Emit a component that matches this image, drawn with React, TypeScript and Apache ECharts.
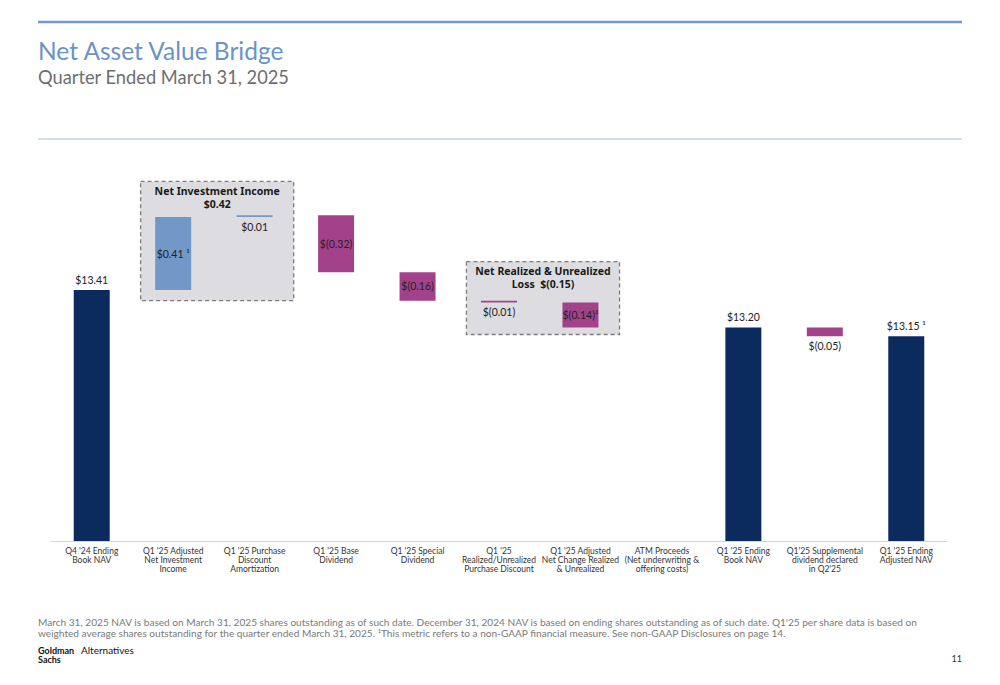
import React, { useEffect, useRef } from "react";
import * as echarts from "echarts";

const categories = [
  "Q4 '24 Ending\nBook NAV",
  "Q1 '25 Adjusted\nNet Investment\nIncome",
  "Q1 '25 Purchase\nDiscount\nAmortization",
  "Q1 '25 Base\nDividend",
  "Q1 '25 Special\nDividend",
  "Q1 '25\nRealized/Unrealized\nPurchase Discount",
  "Q1 '25 Adjusted\nNet Change Realized\n& Unrealized",
  "ATM Proceeds\n(Net underwriting &\noffering costs)",
  "Q1 '25 Ending\nBook NAV",
  "Q1'25 Supplemental\ndividend declared\nin Q2'25",
  "Q1 '25 Ending\nAdjusted NAV",
];
const values = [13.41, 0.41, 0.01, -0.32, -0.16, -0.01, -0.14, 0, 13.2, -0.05, 13.15];
const kinds = ["total", "nii", "nii", "neg", "neg", "neg", "neg", "none", "total", "neg", "total"];
const footnoteMarks = ["", " ¹", "", "", "", "", "¹", "", "", "", " ¹"];

const groupTitles = ["Net Investment Income\n$0.42", "Net Realized & Unrealized\nLoss  $(0.15)"];
const groupRanges = [
  [1, 2],
  [5, 6],
];
const groupValueTop = [14.02, 13.57];
const groupValueBottom = [13.35, 13.16];

const footnote1 =
  "March 31, 2025 NAV is based on March 31, 2025 shares outstanding as of such date. December 31, 2024 NAV is based on ending shares outstanding as of such date. Q1'25 per share data is based on";
const footnote2 =
  "weighted average shares outstanding for the quarter ended March 31, 2025. ¹This metric refers to a non-GAAP financial measure. See non-GAAP Disclosures on page 14.";

const COLORS: Record<string, string> = {
  total: "#0b2b5f",
  nii: "#7198c6",
  neg: "#a3418b",
  none: "transparent",
};

const LATO = "Lato, 'Noto Sans', sans-serif";
const SANS = "'Noto Sans', 'Open Sans', sans-serif";

function fmt(v: number, i: number) {
  if (kinds[i] === "none") return "";
  const a = Math.abs(v).toFixed(2);
  return (v < 0 ? "$(" + a + ")" : "$" + a) + footnoteMarks[i];
}

export default function App() {
  const ref = useRef<HTMLDivElement>(null);
  useEffect(() => {
    if (!ref.current) return;
    const chart = echarts.init(ref.current, null, { renderer: "svg" });

    const base: number[] = [];
    const heights: number[] = [];
    let running = 0;
    values.forEach((v, i) => {
      if (kinds[i] === "total") {
        base.push(0);
        heights.push(v);
        running = v;
      } else {
        const next = running + v;
        base.push(Math.min(running, next));
        heights.push(Math.abs(v));
        running = next;
      }
    });

    const deltaData = heights.map((h, i) => {
      const k = kinds[i];
      const small = k !== "total" && h < 0.1;
      return {
        value: h,
        itemStyle: { color: COLORS[k] },
        label: {
          show: k !== "none",
          position: k === "total" ? "top" : small ? "bottom" : "inside",
          distance: small ? 4 : 5,
          formatter: fmt(values[i], i),
        },
      };
    });

    chart.setOption({
      animation: false,
      grid: { left: 51, right: 53, top: 96, bottom: 144 },
      xAxis: {
        type: "category",
        data: categories,
        axisLine: { lineStyle: { color: "#d6d6d6", width: 1 } },
        axisTick: { show: false },
        axisLabel: {
          interval: 0,
          fontSize: 8.5,
          lineHeight: 9,
          color: "#333",
          fontFamily: LATO,
          margin: 5,
        },
      },
      yAxis: {
        type: "value",
        min: 12,
        max: 14.5,
        show: false,
        splitLine: { show: false },
      },
      series: [
        {
          type: "bar",
          stack: "w",
          data: base,
          itemStyle: { color: "transparent" },
          barWidth: 36,
          silent: true,
          clip: true,
        },
        {
          type: "bar",
          stack: "w",
          data: deltaData,
          barWidth: 36,
          clip: true,
          label: {
            color: "#222",
            fontSize: 10.5,
            fontFamily: LATO,
          },
        },
      ],
    });

    const p = (i: number, v: number) =>
      chart.convertToPixel({ gridIndex: 0 }, [i, v]) as number[];
    const band = p(1, 13)[0] - p(0, 13)[0];

    const boxes: any[] = [];
    groupRanges.forEach((r, g) => {
      const x0 = p(r[0], groupValueTop[g])[0] - band * 0.4;
      const x1 = p(r[1], groupValueTop[g])[0] + band * 0.48;
      const y0 = p(r[0], groupValueTop[g])[1];
      const y1 = p(r[0], groupValueBottom[g])[1];
      boxes.push({
        type: "rect",
        z: -10,
        shape: { x: x0, y: y0, width: x1 - x0, height: y1 - y0 },
        style: { fill: "#dcdce1", stroke: "#7d7d7d", lineWidth: 1.3, lineDash: [4, 3] },
      });
      boxes.push({
        type: "text",
        z: 10,
        x: (x0 + x1) / 2,
        y: y0 + 3,
        style: {
          text: groupTitles[g],
          font: "bold 10.5px " + SANS,
          fill: "#1a1a1a",
          align: "center",
          verticalAlign: "top",
          lineHeight: 13,
        },
      });
    });

    chart.setOption({
      graphic: [
        {
          type: "line",
          shape: { x1: 38, y1: 22, x2: 962, y2: 22 },
          style: { stroke: "#7398c9", lineWidth: 2.5 },
        },
        {
          type: "text",
          x: 38,
          y: 50,
          style: {
            text: "Net Asset Value Bridge",
            font: "24.5px " + LATO,
            fill: "#6b93c6",
            verticalAlign: "middle",
          },
        },
        {
          type: "text",
          x: 38,
          y: 77,
          style: {
            text: "Quarter Ended March 31, 2025",
            font: "18.3px " + LATO,
            fill: "#6e6e6e",
            verticalAlign: "middle",
          },
        },
        {
          type: "line",
          shape: { x1: 38, y1: 139, x2: 962, y2: 139 },
          style: { stroke: "#a9bbd8", lineWidth: 1 },
        },
        ...boxes,
        {
          type: "text",
          x: 38,
          y: 622,
          style: {
            text: footnote1,
            font: "10.1px " + LATO,
            fill: "#7a7a7a",
            verticalAlign: "middle",
          },
        },
        {
          type: "text",
          x: 38,
          y: 633,
          style: {
            text: footnote2,
            font: "10.1px " + LATO,
            fill: "#7a7a7a",
            verticalAlign: "middle",
          },
        },
        {
          type: "text",
          x: 38,
          y: 650,
          style: {
            text: "Goldman",
            font: "bold 9px " + LATO,
            fill: "#111",
            verticalAlign: "middle",
          },
        },
        {
          type: "text",
          x: 38,
          y: 659.5,
          style: {
            text: "Sachs",
            font: "bold 9px " + LATO,
            fill: "#111",
            verticalAlign: "middle",
          },
        },
        {
          type: "text",
          x: 81,
          y: 650,
          style: {
            text: "Alternatives",
            font: "10px " + LATO,
            fill: "#111",
            verticalAlign: "middle",
          },
        },
        {
          type: "text",
          x: 962,
          y: 658,
          style: {
            text: "11",
            font: "9px " + LATO,
            fill: "#333",
            align: "right",
            verticalAlign: "middle",
          },
        },
      ],
    });

    return () => chart.dispose();
  }, []);

  return (
    <div
      ref={ref}
      style={{ position: "fixed", left: 0, top: 0, width: 1000, height: 685, background: "#fff" }}
    />
  );
}
